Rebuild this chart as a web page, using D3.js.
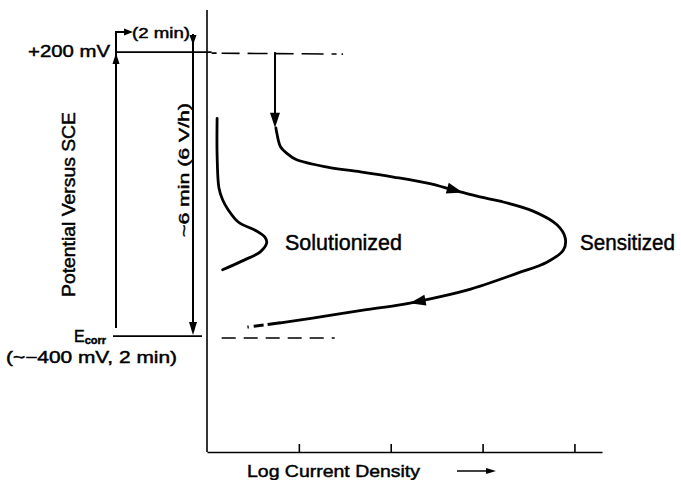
<!doctype html>
<html lang="en">
<head>
<meta charset="utf-8">
<style>
  body { margin: 0; background: #fff; }
  text { font-family: "Liberation Sans", Arial, sans-serif; fill: #000; stroke: #000; stroke-width: 0.45px; }
</style>
</head>
<body>
<div id="chart"></div>
<script src="https://d3js.org/d3.v7.min.js"></script>
<script>
// axis extents: log current density (tick units) and potential (mV vs SCE)
var xDomain = [0, 4.3];
var yDomain = [-645, 289];
var xTicks = [1, 2, 3, 4];
var vertexPot = 200;
var ecorrPot = -400;

// dashed guide lines at +200 mV and Ecorr (x start/end)
var vertexDashX = [0.05, 1.48];
var ecorrDashX = [0.16, 1.39];

// solutionized scan
var solX = [0.11, 0.11, 0.13, 0.17, 0.23, 0.34, 0.52, 0.63, 0.65, 0.58, 0.41, 0.17];
var solY = [60, -17, -87, -112, -133, -159, -176, -191, -203, -222, -239, -260];

// sensitized scan (drop from +200 mV then loop)
var dropX = 0.74;
var dropY = [200, 40];
var senX = [0.75, 0.76, 0.80, 0.87, 0.97, 1.31, 1.67, 2.03, 2.40, 2.68, 2.97, 3.19, 3.55, 3.81, 3.90,
            3.88, 3.70, 3.38, 2.83, 2.32, 2.10, 1.70, 1.15, 0.80];
var senY = [40, 29, 0, -14, -27, -43, -53, -64, -77, -91, -106, -115, -136, -165, -193,
            -218, -244, -267, -303, -326, -334, -345, -362, -372];
var tailX = [0.80, 0.44];
var tailY = [-372, -381];
var arrowX = [2.79, 2.21];
var arrowY = [-94, -330];

var width = 681, height = 480;
var svg = d3.select("#chart").append("svg")
  .attr("width", width).attr("height", height);

var x = d3.scaleLinear().domain(xDomain).range([207, 602]);
var y = d3.scaleLinear().domain(yDomain).range([452, 10]);

function head(px, py, ang, len, w) {
  var c = Math.cos(ang), s = Math.sin(ang);
  var bx = px - c * len, by = py - s * len;
  svg.append("polygon")
    .attr("points", [[px, py], [bx - s * w, by + c * w], [bx + s * w, by - c * w]].join(" "))
    .attr("fill", "#000");
}

// axes
svg.append("line").attr("x1", x(0)).attr("x2", x(0)).attr("y1", y(yDomain[1])).attr("y2", y(yDomain[0]))
  .attr("stroke", "#000").attr("stroke-width", 1.6);
var xAxis = d3.axisBottom(x).tickValues(xTicks).tickSize(-8).tickFormat("").tickSizeOuter(0);
var gx = svg.append("g").attr("transform", "translate(0," + y(yDomain[0]) + ")").call(xAxis);
gx.select(".domain").attr("stroke-width", 1.6);
gx.selectAll(".tick line").attr("stroke-width", 1.6);

// +200 mV holding line
svg.append("line").attr("x1", 117).attr("x2", x(vertexDashX[0]))
  .attr("y1", y(vertexPot)).attr("y2", y(vertexPot)).attr("stroke", "#000").attr("stroke-width", 1.8);
svg.append("line").attr("x1", x(vertexDashX[0])).attr("x2", x(vertexDashX[1]))
  .attr("y1", y(vertexPot) + 1).attr("y2", y(vertexPot) + 2)
  .attr("stroke", "#000").attr("stroke-width", 1.6).attr("stroke-dasharray", "5,5,18,8,20,8,18,8,22,8");

// Ecorr line
svg.append("line").attr("x1", 113).attr("x2", 202)
  .attr("y1", y(ecorrPot)).attr("y2", y(ecorrPot)).attr("stroke", "#000").attr("stroke-width", 1.8);
svg.append("line").attr("x1", x(ecorrDashX[0])).attr("x2", x(ecorrDashX[1]))
  .attr("y1", y(ecorrPot) + 2).attr("y2", y(ecorrPot) + 2)
  .attr("stroke", "#000").attr("stroke-width", 1.6).attr("stroke-dasharray", "14,8");

// time annotation: hold at Ecorr, step up, hold 2 min, scan down
svg.append("path").attr("d", "M116," + (y(ecorrPot) - 8) + "V32H126")
  .attr("fill", "none").attr("stroke", "#000").attr("stroke-width", 2);
head(133, 32, 0, 9, 3.5);
head(116, y(vertexPot) + 1, -Math.PI / 2, 11, 3.5);
svg.append("line").attr("x1", 193).attr("x2", 193).attr("y1", 34).attr("y2", y(ecorrPot) - 6)
  .attr("stroke", "#000").attr("stroke-width", 2);
head(193, 45, Math.PI / 2, 10, 3.5);
head(193, y(ecorrPot) - 1, Math.PI / 2, 13, 4);

// curves
var line = d3.line().x(function (d) { return x(d[0]); }).y(function (d) { return y(d[1]); })
  .curve(d3.curveCatmullRom.alpha(0.5));

svg.append("path").datum(d3.zip(solX, solY)).attr("d", line)
  .attr("fill", "none").attr("stroke", "#000").attr("stroke-width", 2.8).attr("stroke-linecap", "round");

svg.append("line").attr("x1", x(dropX)).attr("x2", x(dropX)).attr("y1", y(dropY[0])).attr("y2", y(dropY[1]) - 6)
  .attr("stroke", "#000").attr("stroke-width", 2);
head(x(dropX), y(dropY[1]), Math.PI / 2, 15, 5);

var sen = svg.append("path").datum(d3.zip(senX, senY)).attr("d", line)
  .attr("fill", "none").attr("stroke", "#000").attr("stroke-width", 2.8).attr("stroke-linecap", "round");
svg.append("path").datum(d3.zip(tailX, tailY)).attr("d", d3.line().x(function (d) { return x(d[0]); }).y(function (d) { return y(d[1]); }))
  .attr("fill", "none").attr("stroke", "#000").attr("stroke-width", 3).attr("stroke-dasharray", "13,4,10,5");

// arrowheads along the sensitized curve
var node = sen.node(), total = node.getTotalLength();
arrowX.forEach(function (ax, i) {
  var tx = x(ax), ty = y(arrowY[i]), best = 0, bd = 1e9;
  for (var l = 0; l <= total; l += 1) {
    var p = node.getPointAtLength(l), d = (p.x - tx) * (p.x - tx) + (p.y - ty) * (p.y - ty);
    if (d < bd) { bd = d; best = l; }
  }
  var p0 = node.getPointAtLength(best - 3), p1 = node.getPointAtLength(best + 3);
  var tip = node.getPointAtLength(best);
  head(tip.x, tip.y, Math.atan2(p1.y - p0.y, p1.x - p0.x), 16, 5.5);
});

// labels
function label(t, px, py, size, len) {
  return svg.append("text").attr("x", px).attr("y", py).attr("font-size", size)
    .attr("textLength", len).attr("lengthAdjust", "spacingAndGlyphs").text(t);
}
label("+200 mV", 28, 57, 16.5, 82);
label("(2 min)", 132, 38, 14.5, 58);
label("(~\u2212400 mV, 2 min)", 6, 363, 16.5, 171);
label("Solutionized", 285, 250, 21.5, 117);
label("Sensitized", 580, 250, 21.5, 95);
label("Log Current Density", 247, 477, 17, 173);

var ec = svg.append("text").attr("x", 74).attr("y", 342).attr("font-size", 16);
ec.append("tspan").text("E");
ec.append("tspan").attr("font-size", 11).attr("dy", 2).attr("font-weight", "bold").text("corr");

svg.append("text").attr("transform", "translate(75,204.5) rotate(-90)").attr("text-anchor", "middle")
  .attr("font-size", 18).attr("textLength", 185).attr("lengthAdjust", "spacingAndGlyphs")
  .text("Potential Versus SCE");
svg.append("text").attr("transform", "translate(189,170) rotate(-90)").attr("text-anchor", "middle")
  .attr("font-size", 14).attr("textLength", 134).attr("lengthAdjust", "spacingAndGlyphs")
  .text("~6 min (6 V/h)");

// direction arrow next to x label
svg.append("line").attr("x1", 457).attr("x2", 488).attr("y1", 471).attr("y2", 471)
  .attr("stroke", "#000").attr("stroke-width", 1.5);
head(496, 471, 0, 10, 3);
</script>
</body>
</html>
